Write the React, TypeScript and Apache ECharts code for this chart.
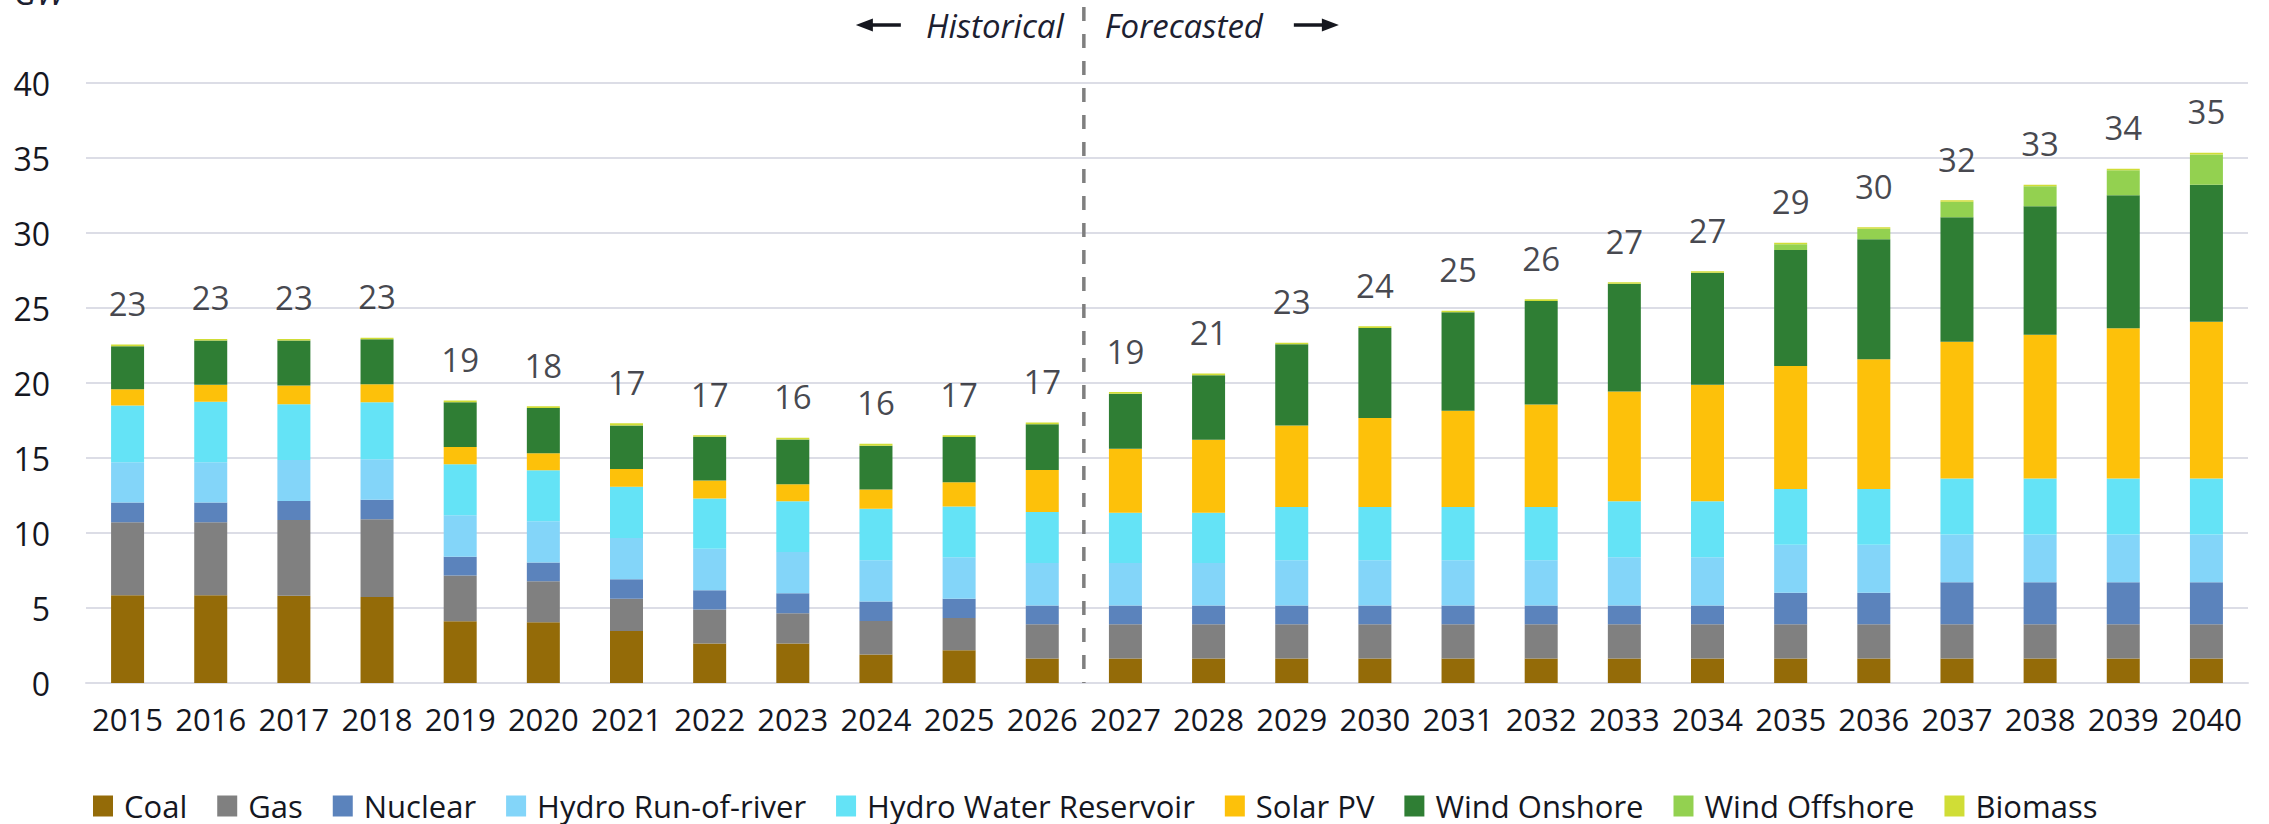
import React, { useEffect, useRef } from "react";
import * as echarts from "echarts";

const years = [
  "2015", "2016", "2017", "2018", "2019", "2020", "2021", "2022", "2023", "2024", "2025", "2026", "2027",
  "2028", "2029", "2030", "2031", "2032", "2033", "2034", "2035", "2036", "2037", "2038", "2039", "2040",
];

const coal = [5.85, 5.85, 5.82, 5.74, 4.11, 4.05, 3.46, 2.64, 2.64, 1.9, 2.18, 1.63, 1.63, 1.63, 1.63, 1.63, 1.63, 1.63, 1.63, 1.63, 1.63, 1.63, 1.63, 1.63, 1.63, 1.63];
const gas = [4.87, 4.87, 5.04, 5.17, 3.05, 2.73, 2.15, 2.26, 2.01, 2.24, 2.15, 2.29, 2.29, 2.29, 2.29, 2.29, 2.29, 2.29, 2.29, 2.29, 2.29, 2.29, 2.29, 2.29, 2.29, 2.29];
const nuclear = [1.31, 1.31, 1.28, 1.31, 1.25, 1.25, 1.3, 1.28, 1.34, 1.3, 1.28, 1.25, 1.25, 1.25, 1.25, 1.25, 1.25, 1.25, 1.25, 1.25, 2.09, 2.09, 2.8, 2.8, 2.8, 2.8];
const hydroRor = [2.69, 2.69, 2.72, 2.69, 2.77, 2.75, 2.75, 2.77, 2.74, 2.75, 2.77, 2.83, 2.83, 2.83, 3.02, 3.02, 3.02, 3.02, 3.21, 3.21, 3.21, 3.21, 3.18, 3.18, 3.18, 3.18];
const hydroRes = [3.78, 4.03, 3.73, 3.81, 3.41, 3.4, 3.43, 3.35, 3.38, 3.43, 3.38, 3.4, 3.35, 3.35, 3.54, 3.54, 3.54, 3.54, 3.73, 3.73, 3.71, 3.71, 3.73, 3.73, 3.73, 3.73];
const solar = [1.09, 1.14, 1.25, 1.2, 1.14, 1.14, 1.17, 1.2, 1.14, 1.28, 1.62, 2.8, 4.27, 4.87, 5.44, 5.93, 6.42, 6.83, 7.32, 7.78, 8.21, 8.65, 9.12, 9.58, 10.02, 10.45];
const windOn = [2.86, 2.94, 2.99, 2.99, 2.99, 3.02, 2.91, 2.91, 2.99, 2.91, 3.02, 3.05, 3.67, 4.3, 5.42, 6.01, 6.56, 6.91, 7.18, 7.46, 7.73, 8.0, 8.3, 8.57, 8.87, 9.14];
const windOff = [0, 0, 0, 0, 0, 0, 0, 0, 0, 0, 0, 0, 0, 0, 0, 0, 0, 0, 0, 0, 0.38, 0.71, 1.03, 1.34, 1.66, 2.02];
const biomass = [0.11, 0.11, 0.11, 0.11, 0.11, 0.11, 0.14, 0.11, 0.11, 0.14, 0.11, 0.11, 0.11, 0.11, 0.1, 0.11, 0.11, 0.11, 0.11, 0.1, 0.1, 0.1, 0.11, 0.1, 0.11, 0.11];
const totalLabels = [23, 23, 23, 23, 19, 18, 17, 17, 16, 16, 17, 17, 19, 21, 23, 24, 25, 26, 27, 27, 29, 30, 32, 33, 34, 35];

const seriesNames = [
  "Coal", "Gas", "Nuclear", "Hydro Run-of-river", "Hydro Water Reservoir",
  "Solar PV", "Wind Onshore", "Wind Offshore", "Biomass",
];
const seriesData = [coal, gas, nuclear, hydroRor, hydroRes, solar, windOn, windOff, biomass];
const colors = ["#946b08", "#808080", "#5b83bc", "#83d5f9", "#64e3f6", "#fdc10a", "#2f7e34", "#93d150", "#d0dd36"];

const FONT = '"Open Sans", "DejaVu Sans", sans-serif';
const TEXT = "#15171f";

export default function App() {
  const ref = useRef<HTMLDivElement>(null);
  useEffect(() => {
    const chart = echarts.init(ref.current!, null, { renderer: "svg" });
    const sums = years.map((_, i) => seriesData.reduce((s, arr) => s + arr[i], 0));
    const option: any = {
      animation: false,
      backgroundColor: "#ffffff",
      grid: { left: 86, right: 21, top: 83, bottom: 141, containLabel: false },
      legend: {
        data: seriesNames,
        left: 88,
        top: 785,
        icon: "rect",
        itemWidth: 20,
        itemHeight: 21,
        itemGap: 30,
        textStyle: { fontSize: 31, lineHeight: 32, fontFamily: FONT, color: TEXT, padding: [0, 0, 0, 6] },
      },
      xAxis: {
        type: "category",
        data: years,
        axisLine: { lineStyle: { color: "#dcdde6", width: 2 } },
        axisTick: { show: false },
        axisLabel: { fontSize: 31, fontFamily: FONT, color: TEXT, margin: 20, interval: 0 },
      },
      yAxis: {
        type: "value",
        min: 0,
        max: 40,
        interval: 5,
        axisLine: { show: false },
        axisTick: { show: false },
        axisLabel: { fontSize: 32, fontFamily: FONT, color: TEXT, margin: 36 },
        splitLine: { lineStyle: { color: "#dcdde6", width: 2 } },
      },
      series: [
        ...seriesNames.map((name, k) => ({
          name,
          type: "bar",
          stack: "total",
          barWidth: 33,
          data: seriesData[k],
          itemStyle: { color: colors[k] },
          emphasis: { disabled: true },
        })),
        {
          name: "Total",
          type: "scatter",
          data: sums,
          symbolSize: 1,
          itemStyle: { color: "rgba(0,0,0,0)" },
          label: {
            show: true,
            position: "top",
            distance: 24,
            fontSize: 33,
            fontFamily: FONT,
            color: TEXT,
            formatter: (p: any) => String(totalLabels[p.dataIndex]),
          },
          silent: true,
        },
      ],
    };
    chart.setOption(option);

    const xa = chart.convertToPixel({ xAxisIndex: 0 }, "2026") as number;
    const xb = chart.convertToPixel({ xAxisIndex: 0 }, "2027") as number;
    const xd = (xa + xb) / 2;
    const y0 = chart.convertToPixel({ yAxisIndex: 0 }, 0) as number;
    const ay = 25;
    chart.setOption({
      graphic: [
        {
          type: "line",
          shape: { x1: xd, y1: 7, x2: xd, y2: y0 },
          style: { stroke: "#7f7f7f", lineWidth: 3.5, lineDash: [14, 13] },
          z: 10,
        },
        {
          type: "text",
          x: xd - 20,
          y: ay,
          style: { text: "Historical", fontSize: 33, fontStyle: "italic", fontFamily: FONT, fill: "#1c2030", align: "right", verticalAlign: "middle" },
        },
        {
          type: "text",
          x: xd + 21,
          y: ay,
          style: { text: "Forecasted", fontSize: 33, fontStyle: "italic", fontFamily: FONT, fill: "#1c2030", align: "left", verticalAlign: "middle" },
        },
        {
          type: "line",
          shape: { x1: xd + 210, y1: ay, x2: xd + 242, y2: ay },
          style: { stroke: "#15171f", lineWidth: 3.5 },
        },
        {
          type: "polygon",
          shape: { points: [[xd + 255, ay], [xd + 238, ay - 6.5], [xd + 238, ay + 6.5]] },
          style: { fill: "#15171f" },
        },
        {
          type: "line",
          shape: { x1: xd - 183, y1: ay, x2: xd - 215, y2: ay },
          style: { stroke: "#15171f", lineWidth: 3.5 },
        },
        {
          type: "polygon",
          shape: { points: [[xd - 228, ay], [xd - 211, ay - 6.5], [xd - 211, ay + 6.5]] },
          style: { fill: "#15171f" },
        },
        {
          type: "text",
          x: 14,
          y: -8,
          style: { text: "GW", fontSize: 33, fontStyle: "italic", fontFamily: FONT, fill: "#1c2030", align: "left", verticalAlign: "middle" },
        },
      ],
    });
    return () => chart.dispose();
  }, []);
  return <div ref={ref} style={{ position: "fixed", left: 0, top: 0, width: 2269, height: 824 }} />;
}
